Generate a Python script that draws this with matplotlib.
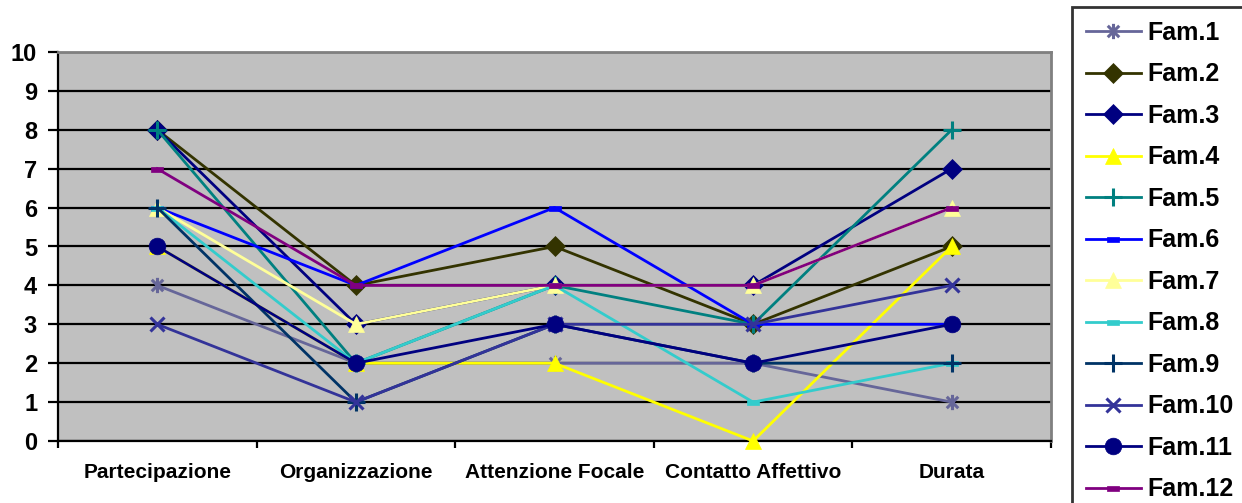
import matplotlib
matplotlib.use('Agg')
import matplotlib.pyplot as plt
from matplotlib.path import Path
import numpy as np

plt.rcParams['font.family'] = ['Liberation Sans', 'DejaVu Sans']
plt.rcParams['font.weight'] = 'bold'

categories = ['Partecipazione', 'Organizzazione', 'Attenzione Focale',
              'Contatto Affettivo', 'Durata']

fam1 = [4, 2, 2, 2, 1]
fam2 = [8, 4, 5, 3, 5]
fam3 = [8, 3, 4, 4, 7]
fam4 = [5, 2, 2, 0, 5]
fam5 = [8, 2, 4, 3, 8]
fam6 = [6, 4, 6, 3, 3]
fam7 = [6, 3, 4, 4, 6]
fam8 = [6, 2, 4, 1, 2]
fam9 = [6, 1, 3, 2, 2]
fam10 = [3, 1, 3, 3, 4]
fam11 = [5, 2, 3, 2, 3]
fam12 = [7, 4, 4, 4, 6]

labels = ['Fam.%d' % i for i in range(1, 13)]
series = [fam1, fam2, fam3, fam4, fam5, fam6, fam7, fam8, fam9, fam10, fam11, fam12]

# excel-ish marker shapes
M, L = Path.MOVETO, Path.LINETO
star = Path([(0, -1), (0, 1), (-.75, -.75), (.75, .75), (-.75, .75), (.75, -.75)],
            [M, L, M, L, M, L])
dash = Path([(-1, -.45), (1, -.45), (1, .45), (-1, .45), (-1, -.45)],
            [M, L, L, L, Path.CLOSEPOLY])

styles = [
    ('#666699', star, 11),
    ('#333300', 'D', 10),
    ('#000080', 'D', 10),
    ('#FFFF00', '^', 12),
    ('#008080', '+', 13),
    ('#0000FF', dash, 8),
    ('#FFFF99', '^', 12),
    ('#33CCCC', dash, 8),
    ('#003366', '+', 13),
    ('#333399', 'x', 10),
    ('#000080', 'o', 12),
    ('#800080', dash, 8),
]

fig = plt.figure(figsize=(12.42, 5.03), dpi=100)
ax = fig.add_axes([58/1242, 62/503, (1051-58)/1242, (441-52)/503])
ax.set_facecolor('#C0C0C0')

x = np.arange(len(categories))
handles = []
for i, (vals, (col, mk, ms)) in enumerate(zip(series, styles)):
    lined = mk in ('+', 'x') or mk is star
    h, = ax.plot(x, vals, color=col, lw=2, marker=mk, ms=ms,
                 mfc=col, mec=col, mew=2.2 if lined else 0.5,
                 label=labels[i], zorder=3 + i, clip_on=False)
    handles.append(h)

ax.set_xlim(-0.5, 4.5)
ax.set_ylim(0, 10)
ax.set_yticks(range(0, 11))
ax.yaxis.grid(True, color='black', lw=1.6)
ax.set_axisbelow(True)
ax.tick_params(axis='y', direction='out', length=7, width=1.6, pad=8,
               labelsize=17, colors='black')
ax.set_xticks(x)
ax.set_xticklabels(categories, fontsize=15, fontweight='bold')
ax.set_xticks(np.arange(-0.5, 5, 1), minor=True)
ax.tick_params(axis='x', which='major', length=0, pad=16)
ax.tick_params(axis='x', which='minor', direction='out', length=5, width=1.6)
for lab in ax.get_yticklabels():
    lab.set_fontweight('bold')

ax.spines['left'].set_linewidth(1.6)
ax.spines['bottom'].set_linewidth(1.6)
ax.spines['top'].set_color('#808080')
ax.spines['right'].set_color('#808080')
ax.spines['top'].set_linewidth(2)
ax.spines['right'].set_linewidth(2)

leg = fig.legend(handles=handles, loc='upper left',
                 bbox_to_anchor=(1072/1242, 1 - 7/503),
                 borderaxespad=0, handlelength=2.2,
                 handletextpad=0.25, labelspacing=0.7, borderpad=0.55,
                 fancybox=False, frameon=True, prop={'weight': 'bold', 'size': 18})
leg.get_frame().set_edgecolor('black')
leg.get_frame().set_linewidth(2)

fig.savefig('out.png', dpi=100)
